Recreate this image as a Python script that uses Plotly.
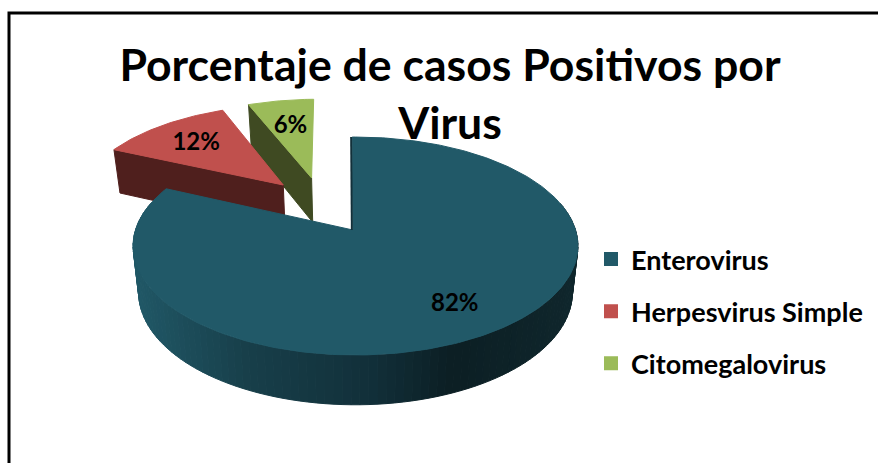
import numpy as np
import plotly.graph_objects as go

categories = ["Enterovirus", "Herpesvirus Simple", "Citomegalovirus"]
values = [82, 12, 6]
title_text = "Porcentaje de casos Positivos por<br>Virus"

top_colors = ["#215968", "#C0504D", "#9BBB59"]
wall_colors = ["#17404A", "#4F1F1D", "#3F4A22"]
explode = [(0.0, 0.0), (-0.35, -0.45), (-0.215, -0.526)]
slice_radius = [1.0, 0.97, 0.97]
label_radius = [0.745, 0.68, 0.64]

CX, CY, KX, KY, P = 355.5, 230.0, 220.0, 106.6, 0.147
ROT = -1.0
APEX_SHIFT = -0.012
FONT = "Lato"


def project(X, Y, bottom=False):
    X, Y = np.asarray(X, float), np.asarray(Y, float)
    s = 1 / (1 - P * Y)
    x = KX * X * s
    y = CY + KY * Y * s
    if bottom:
        x = x * 0.975
        y = y + 46 * s ** 0.5
    return CX + x, y


def rim(i, a0, a1, n=None):
    n = n or max(2, int(abs(a1 - a0)) + 1)
    a = np.radians(np.linspace(a0, a1, n))
    r = slice_radius[i]
    return explode[i][0] + r * np.sin(a), explode[i][1] - r * np.cos(a)


def hex_rgb(h):
    return np.array([int(h[k:k + 2], 16) for k in (1, 3, 5)], float)


grad_x = [135, 250, 370, 450, 575]
grad_c = [hex_rgb(c) for c in ["#215968", "#183F4A", "#12303A", "#0C1F24", "#10272D"]]


def grad_color(x):
    c = [np.interp(x, grad_x, [g[k] for g in grad_c]) for k in range(3)]
    return "rgb(%d,%d,%d)" % tuple(c)


def poly(x, y, color):
    return go.Scatter(x=list(x) + [x[0]], y=list(y) + [y[0]], mode="lines", fill="toself",
                      fillcolor=color, line=dict(color=color, width=1),
                      hoverinfo="skip", showlegend=False)


edges = np.cumsum([0] + values) * 3.6 + ROT
fig = go.Figure()

# Citomegalovirus (back), then Herpesvirus
for i in (2, 1):
    a0, a1 = edges[i], edges[i + 1]
    ax, ay = explode[i]
    X0, Y0 = rim(i, a0, a0, 2)
    xt, yt = project([ax, X0[0]], [ay, Y0[0]])
    xb, yb = project([ax, X0[0]], [ay, Y0[0]], True)
    fig.add_trace(poly([xt[0], xt[1], xb[1], xb[0]], [yt[0], yt[1], yb[1], yb[0]], wall_colors[i]))
    Xr, Yr = rim(i, a0, a1)
    x, y = project(np.r_[ax, Xr], np.r_[ay, Yr])
    fig.add_trace(poly(x, y, top_colors[i]))

# Enterovirus outer wall
i = 0
a0, a1 = edges[i], edges[i + 1]
steps = np.arange(a0, a1, 2.0)
for s0 in steps:
    s1 = min(s0 + 2.0, a1)
    Xs, Ys = rim(i, s0, s1, 2)
    if Ys.max() < -0.25:
        continue
    xt, yt = project(Xs, Ys)
    xb, yb = project(Xs, Ys, True)
    fig.add_trace(poly([xt[0], xt[1], xb[1], xb[0]], [yt[0], yt[1], yb[1], yb[0]],
                       grad_color(xb.mean())))
Xr, Yr = rim(i, a0, a1)
x, y = project(np.r_[APEX_SHIFT, Xr], np.r_[0, Yr])
fig.add_trace(poly(x, y, top_colors[i]))
# sliver of the inner cut face
Xc, Yc = rim(i, a0, a0, 2)
xc, yc = project([APEX_SHIFT, Xc[0]], [0, Yc[0]])
fig.add_trace(go.Scatter(x=xc - 1, y=yc, mode="lines", line=dict(color="#12303A", width=2),
                         hoverinfo="skip", showlegend=False))

# Percentage labels
for i, v in enumerate(values):
    a = np.radians((edges[i] + edges[i + 1]) / 2)
    X = explode[i][0] + label_radius[i] * np.sin(a)
    Y = explode[i][1] - label_radius[i] * np.cos(a)
    lx, ly = project([X], [Y])
    fig.add_trace(go.Scatter(x=lx, y=ly + 2, mode="text", text=[f"{v}%"], textposition="middle center",
                             textfont=dict(family=FONT, size=24, color="black", weight="bold"),
                             hoverinfo="skip", showlegend=False))

# Legend entries
for i, c in enumerate(categories):
    fig.add_trace(go.Scatter(x=[None], y=[None], mode="markers", name=c, legendgroup=c,
                             marker=dict(symbol="square", size=17, color=top_colors[i],
                                         line=dict(color=top_colors[i], width=3))))

fig.update_layout(
    width=878, height=463,
    margin=dict(l=0, r=0, t=0, b=0),
    paper_bgcolor="white", plot_bgcolor="white",
    xaxis=dict(range=[0, 878], visible=False, fixedrange=True),
    yaxis=dict(range=[463, 0], visible=False, fixedrange=True),
    title=dict(text=title_text, x=450 / 878, xanchor="center", y=1 - 81 / 463, yanchor="top",
               font=dict(family=FONT, size=44.6, color="black", weight="bold")),
    legend=dict(x=591 / 878, y=1 - 235 / 463, xanchor="left", yanchor="top",
                bgcolor="rgba(0,0,0,0)", traceorder="grouped", tracegroupgap=14,
                itemsizing="constant", itemwidth=30,
                font=dict(family=FONT, size=27, color="black", weight="bold")),
    shapes=[dict(type="path", xref="x", yref="y", path="M 9 463 L 9 13 L 878 13",
                 line=dict(color="black", width=3))],
)
fig.write_html("out.html", config=dict(displayModeBar=False),
               post_script="document.body.style.margin='0';document.documentElement.style.overflow='hidden';")
